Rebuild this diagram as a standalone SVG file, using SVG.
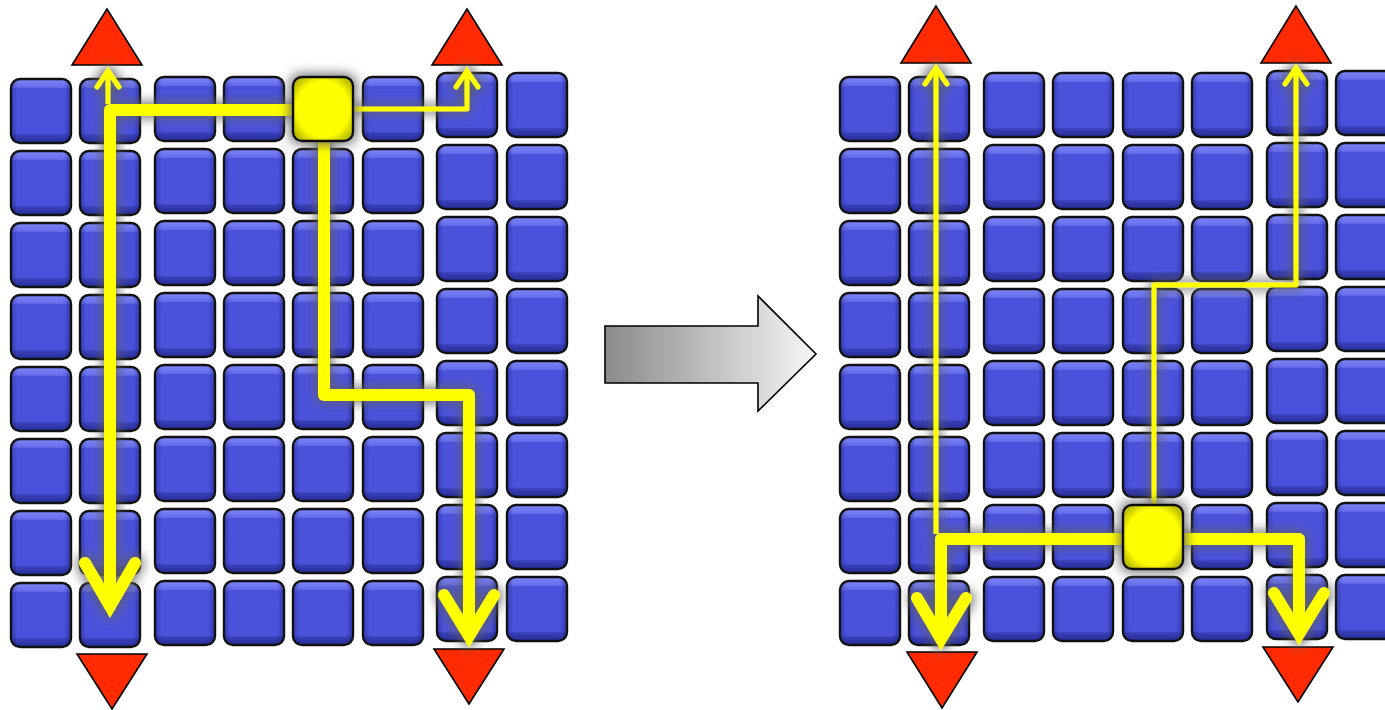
<svg xmlns="http://www.w3.org/2000/svg" xmlns:xlink="http://www.w3.org/1999/xlink" width="1385" height="710" viewBox="0 0 1385 710">
<style>
.tri{fill:#ff2a00;stroke:#000;stroke-width:1.6;stroke-linejoin:miter}
.thick{fill:none;stroke:#ffff00;stroke-width:12;stroke-linejoin:round}
.thin{fill:none;stroke:#ffff00;stroke-width:5;stroke-linejoin:round}
.hd12{fill:none;stroke:#ffff00;stroke-width:12;stroke-linecap:round;stroke-linejoin:miter;stroke-miterlimit:10}
.hd5{fill:none;stroke:#ffff00;stroke-width:5;stroke-linecap:round;stroke-linejoin:miter;stroke-miterlimit:10}
</style>
<defs>
<linearGradient id="bev" x1="0" y1="0" x2="0" y2="1">
<stop offset="0" stop-color="#7d86f6"/>
<stop offset="0.12" stop-color="#6870ec"/>
<stop offset="0.16" stop-color="#4c54df"/>
<stop offset="0.84" stop-color="#4a52dc"/>
<stop offset="0.88" stop-color="#3940b6"/>
<stop offset="1" stop-color="#262c98"/>
</linearGradient>
<linearGradient id="side" x1="0" y1="0" x2="1" y2="0">
<stop offset="0" stop-color="#1a1f80" stop-opacity="0.35"/>
<stop offset="0.1" stop-color="#1a1f80" stop-opacity="0"/>
<stop offset="0.9" stop-color="#1a1f80" stop-opacity="0"/>
<stop offset="1" stop-color="#1a1f80" stop-opacity="0.45"/>
</linearGradient>
<radialGradient id="ygr" cx="0.5" cy="0.5" r="0.6">
<stop offset="0" stop-color="#ffff00"/>
<stop offset="0.72" stop-color="#ffff00"/>
<stop offset="1" stop-color="#bcbc00"/>
</radialGradient>
<linearGradient id="arrg" x1="605" y1="0" x2="816" y2="0" gradientUnits="userSpaceOnUse">
<stop offset="0" stop-color="#8a8a8a"/>
<stop offset="1" stop-color="#f6f6f6"/>
</linearGradient>
<filter id="halo" x="-30%" y="-30%" width="160%" height="160%">
<feMorphology in="SourceAlpha" operator="dilate" radius="2" result="d"/>
<feGaussianBlur in="d" stdDeviation="6" result="b"/>
<feFlood flood-color="#606060" flood-opacity="0.9"/>
<feComposite in2="b" operator="in" result="s"/>
<feMerge><feMergeNode in="s"/><feMergeNode in="SourceGraphic"/></feMerge>
</filter>
<g id="blk">
<rect x="0" y="0" width="60" height="64" rx="9" fill="url(#bev)" stroke="#111" stroke-width="2.4"/>
<rect x="1.2" y="1.2" width="57.6" height="61.6" rx="8" fill="url(#side)"/>
<rect x="6" y="9" width="48" height="46" rx="3" fill="#4a52dc"/>
</g>
<g id="yblk">
<rect x="0" y="0" width="60" height="64" rx="9" fill="url(#ygr)" stroke="#111" stroke-width="2.4"/>
</g>
</defs>
<rect width="1385" height="710" fill="#ffffff"/>

<g id="left-grid">
<g id="L-c1"><use href="#blk" x="11" y="79"/><use href="#blk" x="11" y="151"/><use href="#blk" x="11" y="223"/><use href="#blk" x="11" y="295"/><use href="#blk" x="11" y="367"/><use href="#blk" x="11" y="439"/><use href="#blk" x="11" y="511"/><use href="#blk" x="11" y="583"/></g>
<g id="L-c2"><use href="#blk" x="80" y="79"/><use href="#blk" x="80" y="151"/><use href="#blk" x="80" y="223"/><use href="#blk" x="80" y="295"/><use href="#blk" x="80" y="367"/><use href="#blk" x="80" y="439"/><use href="#blk" x="80" y="511"/><use href="#blk" x="80" y="583"/></g>
<g id="L-c3"><use href="#blk" x="155" y="77"/><use href="#blk" x="155" y="149"/><use href="#blk" x="155" y="221"/><use href="#blk" x="155" y="293"/><use href="#blk" x="155" y="365"/><use href="#blk" x="155" y="437"/><use href="#blk" x="155" y="509"/><use href="#blk" x="155" y="581"/></g>
<g id="L-c4"><use href="#blk" x="224" y="77"/><use href="#blk" x="224" y="149"/><use href="#blk" x="224" y="221"/><use href="#blk" x="224" y="293"/><use href="#blk" x="224" y="365"/><use href="#blk" x="224" y="437"/><use href="#blk" x="224" y="509"/><use href="#blk" x="224" y="581"/></g>
<g id="L-c5"><use href="#blk" x="293" y="149"/><use href="#blk" x="293" y="221"/><use href="#blk" x="293" y="293"/><use href="#blk" x="293" y="365"/><use href="#blk" x="293" y="437"/><use href="#blk" x="293" y="509"/><use href="#blk" x="293" y="581"/></g>
<g id="L-c6"><use href="#blk" x="363" y="77"/><use href="#blk" x="363" y="149"/><use href="#blk" x="363" y="221"/><use href="#blk" x="363" y="293"/><use href="#blk" x="363" y="365"/><use href="#blk" x="363" y="437"/><use href="#blk" x="363" y="509"/><use href="#blk" x="363" y="581"/></g>
<g id="L-c7"><use href="#blk" x="437" y="73"/><use href="#blk" x="437" y="145"/><use href="#blk" x="437" y="217"/><use href="#blk" x="437" y="289"/><use href="#blk" x="437" y="361"/><use href="#blk" x="437" y="433"/><use href="#blk" x="437" y="505"/><use href="#blk" x="437" y="577"/></g>
<g id="L-c8"><use href="#blk" x="507" y="73"/><use href="#blk" x="507" y="145"/><use href="#blk" x="507" y="217"/><use href="#blk" x="507" y="289"/><use href="#blk" x="507" y="361"/><use href="#blk" x="507" y="433"/><use href="#blk" x="507" y="505"/><use href="#blk" x="507" y="577"/></g>
</g>

<g id="right-grid">
<g id="R-c1"><use href="#blk" x="840" y="77"/><use href="#blk" x="840" y="149"/><use href="#blk" x="840" y="221"/><use href="#blk" x="840" y="293"/><use href="#blk" x="840" y="365"/><use href="#blk" x="840" y="437"/><use href="#blk" x="840" y="509"/><use href="#blk" x="840" y="581"/></g>
<g id="R-c2"><use href="#blk" x="909" y="77"/><use href="#blk" x="909" y="149"/><use href="#blk" x="909" y="221"/><use href="#blk" x="909" y="293"/><use href="#blk" x="909" y="365"/><use href="#blk" x="909" y="437"/><use href="#blk" x="909" y="509"/><use href="#blk" x="909" y="581"/></g>
<g id="R-c3"><use href="#blk" x="984" y="73"/><use href="#blk" x="984" y="145"/><use href="#blk" x="984" y="217"/><use href="#blk" x="984" y="289"/><use href="#blk" x="984" y="361"/><use href="#blk" x="984" y="433"/><use href="#blk" x="984" y="505"/><use href="#blk" x="984" y="577"/></g>
<g id="R-c4"><use href="#blk" x="1053" y="73"/><use href="#blk" x="1053" y="145"/><use href="#blk" x="1053" y="217"/><use href="#blk" x="1053" y="289"/><use href="#blk" x="1053" y="361"/><use href="#blk" x="1053" y="433"/><use href="#blk" x="1053" y="505"/><use href="#blk" x="1053" y="577"/></g>
<g id="R-c5"><use href="#blk" x="1123" y="73"/><use href="#blk" x="1123" y="145"/><use href="#blk" x="1123" y="217"/><use href="#blk" x="1123" y="289"/><use href="#blk" x="1123" y="361"/><use href="#blk" x="1123" y="433"/><use href="#blk" x="1123" y="577"/></g>
<g id="R-c6"><use href="#blk" x="1192" y="73"/><use href="#blk" x="1192" y="145"/><use href="#blk" x="1192" y="217"/><use href="#blk" x="1192" y="289"/><use href="#blk" x="1192" y="361"/><use href="#blk" x="1192" y="433"/><use href="#blk" x="1192" y="505"/><use href="#blk" x="1192" y="577"/></g>
<g id="R-c7"><use href="#blk" x="1267" y="71"/><use href="#blk" x="1267" y="143"/><use href="#blk" x="1267" y="215"/><use href="#blk" x="1267" y="287"/><use href="#blk" x="1267" y="359"/><use href="#blk" x="1267" y="431"/><use href="#blk" x="1267" y="503"/><use href="#blk" x="1267" y="575"/></g>
<g id="R-c8"><use href="#blk" x="1336" y="71"/><use href="#blk" x="1336" y="143"/><use href="#blk" x="1336" y="215"/><use href="#blk" x="1336" y="287"/><use href="#blk" x="1336" y="359"/><use href="#blk" x="1336" y="431"/><use href="#blk" x="1336" y="503"/><use href="#blk" x="1336" y="575"/></g>
</g>

<g id="exits">
<polygon id="L-top1" class="tri" points="107,9 72,65 142,65"/>
<polygon id="L-top2" class="tri" points="467,9 432,65 502,65"/>
<polygon id="L-bot1" class="tri" points="77,654 147,654 112,709"/>
<polygon id="L-bot2" class="tri" points="434,649 504,649 469,704"/>
<polygon id="R-top1" class="tri" points="936,6 901,63 971,63"/>
<polygon id="R-top2" class="tri" points="1296,6 1261,63 1331,63"/>
<polygon id="R-bot1" class="tri" points="907,652 977,652 942,708"/>
<polygon id="R-bot2" class="tri" points="1263,647 1333,647 1298,702"/>
</g>

<g id="transition">
<polygon points="605,326 758,326 758,296 816,354 758,411 758,383 605,383" fill="url(#arrg)" stroke="#000" stroke-width="1.6"/>
</g>

<g id="connectors" filter="url(#halo)">
<path class="thin" d="M108,104 V72"/>
<polyline class="hd5" points="97,87 108,71 119,87"/>
<path class="thick" d="M300,110 H110 V604"/>
<polyline class="hd12" points="85,563 110,606 135,563"/>
<path class="thin" d="M350,109 H467 V72"/>
<polyline class="hd5" points="456,87 467,71 478,87"/>
<path class="thick" d="M324,135 V395 H469 V634"/>
<polyline class="hd12" points="444,595 469,636 494,595"/>

<path class="thin" d="M936,534 V69"/>
<polyline class="hd5" points="925,84 936,68 947,84"/>
<path class="thick" d="M1130,539 H941 V637"/>
<polyline class="hd12" points="917,598 941,639 966,598"/>
<path class="thin" d="M1154,512 V285 H1296 V69"/>
<polyline class="hd5" points="1285,84 1296,68 1307,84"/>
<path class="thick" d="M1175,539 H1299 V632"/>
<polyline class="hd12" points="1274,593 1299,634 1324,593"/>
</g>

<g id="L-c5r1" filter="url(#halo)"><use href="#yblk" x="293" y="77"/></g>
<g id="R-c5r7" filter="url(#halo)"><use href="#yblk" x="1123" y="505"/></g>
</svg>
